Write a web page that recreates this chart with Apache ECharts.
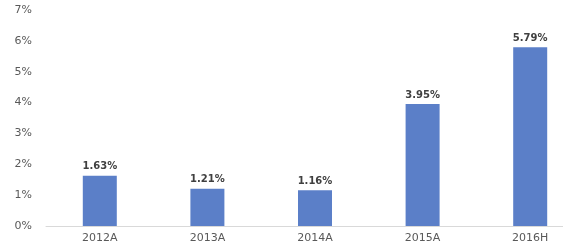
<!DOCTYPE html>
<html><head><meta charset="utf-8">
<script src="https://cdn.jsdelivr.net/npm/echarts@6/dist/echarts.min.js"></script>
<style>html,body{margin:0;padding:0;background:#fff;overflow:hidden}#c{width:584px;height:248px}</style>
</head><body><div id="c"></div>
<script>
const categories = ['2012A','2013A','2014A','2015A','2016H'];
const values = [1.63, 1.21, 1.16, 3.95, 5.79];
const yTicks = [0,1,2,3,4,5,6,7];

const chart = echarts.init(document.getElementById('c'));
chart.setOption({
  animation: false,
  grid: { left: 46, top: 10, right: 0, bottom: 22 },
  xAxis: {
    type: 'category', data: categories,
    axisLine: { lineStyle: { color: '#d9d9d9', width: 1 } },
    axisTick: { show: false },
    axisLabel: { color: '#595959', fontSize: 11, margin: 7, fontFamily: 'DejaVu Sans' }
  },
  yAxis: {
    type: 'value', min: 0, max: 7, interval: 1,
    splitLine: { show: false },
    axisLine: { show: false }, axisTick: { show: false },
    axisLabel: { color: '#595959', fontSize: 11, margin: 14, fontFamily: 'DejaVu Sans', formatter: v => v + '%' }
  },
  series: [{
    type: 'bar', data: values, barWidth: 34,
    itemStyle: { color: '#5B7FC8' },
    label: { show: true, position: 'top', distance: 4, color: '#404040', fontSize: 10, fontWeight: 'bold', fontFamily: 'DejaVu Sans', formatter: p => p.value.toFixed(2) + '%' }
  }]
});
</script></body></html>
